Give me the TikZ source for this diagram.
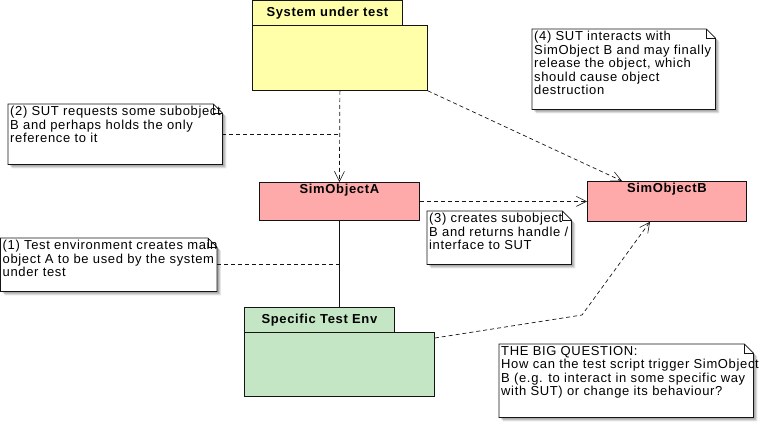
\documentclass[tikz,border=0pt]{standalone}
\usepackage{fontspec}
\setmainfont{Liberation Sans}[LetterSpace=5]
\usetikzlibrary{arrows.meta}
\definecolor{sutcol}{RGB}{255,255,170}
\definecolor{simcol}{RGB}{255,170,170}
\definecolor{envcol}{RGB}{196,230,196}
\definecolor{linecol}{RGB}{20,20,20}

\tikzset{
  box/.style={draw=linecol, line width=0.8pt, anchor=north west, inner sep=0pt},
  boxtitle/.style={font=\fontsize{13}{14}\selectfont\bfseries, inner sep=2pt},
  notearea/.style={anchor=north west, inner sep=0pt},
  notetext/.style={anchor=north west, inner sep=2pt, align=left,
    font=\fontsize{13}{13.5}\selectfont},
  dep/.style={linecol, line width=0.7pt, dash pattern=on 4pt off 3pt,
    -{Straight Barb[length=10pt,width=10pt,line width=0.6pt]}},
  link/.style={linecol, line width=0.7pt, dash pattern=on 4pt off 3pt},
}

% note frame with folded corner and soft shadow, built on node #1
\newcommand{\noteframe}[1]{%
  \foreach \s/\o in {4/0.10,3/0.12,2/0.15}{
    \fill[black, opacity=\o]
      ([shift={(\s,\s)}]#1.north west) -- ([shift={(\s-9,\s)}]#1.north east)
      -- ([shift={(\s,\s+9)}]#1.north east) -- ([shift={(\s,\s)}]#1.south east)
      -- ([shift={(\s,\s)}]#1.south west) -- cycle;}
  \filldraw[fill=white, draw=linecol, line width=0.8pt]
    (#1.north west) -- ([xshift=-9pt]#1.north east) -- ([yshift=-9pt]#1.north east)
    -- (#1.south east) -- (#1.south west) -- cycle;
  \draw[linecol, line width=0.6pt]
    ([xshift=-9pt]#1.north east) |- ([yshift=-9pt]#1.north east);}

\begin{document}
\begin{tikzpicture}[x=1pt, y=-1pt]
\useasboundingbox (0,0) rectangle (773,437);

% ------------------------------------------------------------------
% Packages and classes
% ------------------------------------------------------------------
\node[box, fill=sutcol, minimum width=150pt, minimum height=25pt] (suttab) at (252,0) {};
\node[boxtitle] (sutlbl) at (suttab.center) {System under test};
\node[box, fill=sutcol, minimum width=175pt, minimum height=65pt] (sut) at (252,25) {};

\node[box, fill=simcol, minimum width=160pt, minimum height=38pt] (simA) at (259,182) {};
\node[boxtitle, anchor=north] (simAlbl) at (simA.north) {SimObjectA};

\node[box, fill=simcol, minimum width=159pt, minimum height=40pt] (simB) at (587,181) {};
\node[boxtitle, anchor=north] (simBlbl) at (simB.north) {SimObjectB};

\node[box, fill=envcol, minimum width=150pt, minimum height=25pt] (envtab) at (244,307) {};
\node[boxtitle] (envlbl) at (envtab.center) {Specific Test Env};
\node[box, fill=envcol, minimum width=190pt, minimum height=64pt] (env) at (244,332) {};

% ------------------------------------------------------------------
% Notes
% ------------------------------------------------------------------
\node[notearea, minimum width=214pt, minimum height=60pt] (n2) at (8,104) {};
\noteframe{n2}
\node[notetext] (t2) at (n2.north west) {(2) SUT requests some subobject\\B and perhaps holds the only\\reference to it};

\node[notearea, minimum width=216pt, minimum height=53pt] (n1) at (0.5,238) {};
\noteframe{n1}
\node[notetext] (t1) at (n1.north west) {(1) Test environment creates main\\object A to be used by the system\\under test};

\node[notearea, minimum width=144pt, minimum height=53pt] (n3) at (427,211) {};
\noteframe{n3}
\node[notetext] (t3) at (n3.north west) {(3) creates subobject\\B and returns handle /\\interface to SUT};

\node[notearea, minimum width=183pt, minimum height=80pt] (n4) at (532,29) {};
\noteframe{n4}
\node[notetext] (t4) at (n4.north west) {(4) SUT interacts with\\SimObject B and may finally\\release the object, which\\should cause object\\destruction};

\node[notearea, minimum width=254pt, minimum height=73pt] (n5) at (499,344) {};
\noteframe{n5}
\node[notetext] (t5) at (n5.north west) {THE BIG QUESTION:\\How can the test script trigger SimObject\\B (e.g. to interact in some specific way\\with SUT) or change its behaviour?};

% ------------------------------------------------------------------
% Connectors
% ------------------------------------------------------------------
\draw[dep] (sut.south) -- (simA.north);
\draw[dep] (sut.south east) -- ([xshift=35pt]simB.north west);
\draw[dep] (simA.east) -- (simB.west);
\draw[linecol, line width=0.8pt] (simA.south) -- (simA.south |- envtab.north);
\draw[link] (n2.east) -- (n2.east -| sut.south);
\draw[link] (n1.east) -- (n1.east -| simA.south);
\coordinate (bend) at (582,315);
\draw[dep] ([yshift=-6pt]env.north east) -- (bend) -- ([xshift=63pt]simB.south west);

\end{tikzpicture}
\end{document}
